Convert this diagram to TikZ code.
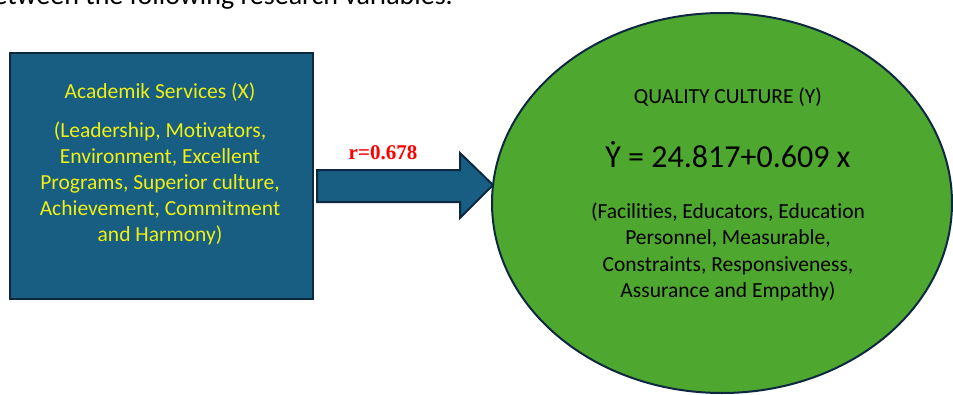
\documentclass[tikz,border=0pt]{standalone}
\usepackage{fontspec}
\setmainfont{Carlito}[Ligatures=NoCommon]
\newfontfamily\timesfont{Liberation Serif}
\usetikzlibrary{shapes.geometric}
\definecolor{boxblue}{RGB}{23,94,130}
\definecolor{edgenavy}{RGB}{14,40,65}
\definecolor{ellgreen}{RGB}{78,167,46}
\definecolor{txtyellow}{RGB}{240,240,20}
\definecolor{rred}{RGB}{255,0,0}
\tikzset{
  boxtext/.style={text=txtyellow, align=center, font=\fontsize{21.5}{26}\selectfont},
  elltext/.style={text=black, align=center, font=\fontsize{21.5}{26.3}\selectfont},
}
\begin{document}
\begin{tikzpicture}[x=1pt,y=-1pt]
\useasboundingbox (0,0) rectangle (953,394);
\clip (0,0) rectangle (953,394);
% top cut-off sentence
\node[anchor=base east, inner sep=0, font=\fontsize{28}{32}\selectfont] (top) at (453,4) {etween the following research variables.};
% left box
\node[draw=edgenavy, line width=2pt, fill=boxblue, minimum width=303pt, minimum height=246pt, inner sep=0, anchor=north west] (xbox) at (9,52) {};
\node[boxtext] (xtitle) at (160,92) {Academik Services (X)};
\node[boxtext] (xlist) at (160,183) {(Leadership, Motivators,\\Environment, Excellent\\Programs, Superior culture,\\Achievement, Commitment\\and Harmony)};
% ellipse
\node[ellipse, draw=edgenavy, line width=2pt, fill=ellgreen, minimum width=460pt, minimum height=380pt, inner sep=0] (yell) at (722,203) {};
\node[elltext] (ytitle) at (728,97) {QUALITY CULTURE (Y)};
\node[elltext, font=\fontsize{32}{36}\selectfont] (yeq) at (728,155) {Ẏ = 24.817+0.609 x};
\node[elltext] (ylist) at (728,252) {(Facilities, Educators, Education\\Personnel, Measurable,\\Constraints, Responsiveness,\\Assurance and Empathy)};
% block arrow
\draw[draw=edgenavy, line width=2pt, fill=boxblue, line join=miter]
  (317,170) -- (460,170) -- (460,153) -- (493,185) -- (460,218) -- (460,202) -- (317,202) -- cycle;
\coordinate (atip) at (493,185);
\node[text=rred, font=\timesfont\bfseries\fontsize{21}{24}\selectfont] (rlab) at (383,153) {r=0.678};
\end{tikzpicture}
\end{document}
